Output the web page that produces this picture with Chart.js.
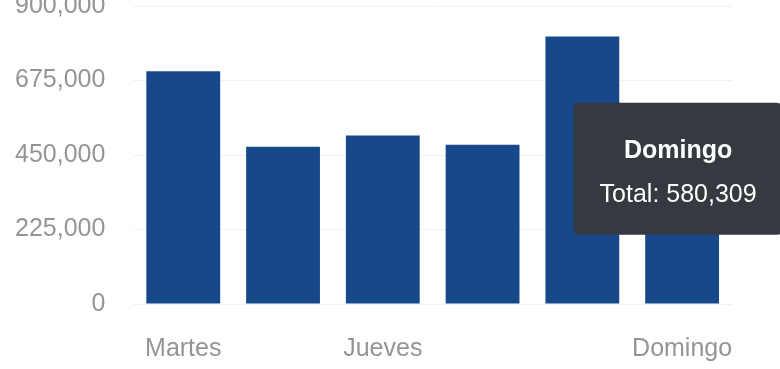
<!DOCTYPE html>
<html>
<head>
<meta charset="utf-8">
<script src="https://cdn.jsdelivr.net/npm/chart.js@4.4.1/dist/chart.umd.min.js"></script>
<style>
    html, body { margin: 0; padding: 0; background: #fff; overflow: hidden; width: 780px; height: 369px; }
    #wrap { position: absolute; left: -13px; top: -37px; width: 833px; height: 423px; }
</style>
</head>
<body>
<div id="wrap"><canvas id="barChart"></canvas></div>
<script>
// データ
const categories = ['Martes', 'Miércoles', 'Jueves', 'Viernes', 'Sábado', 'Domingo'];
const xTickLabels = ['Martes', '', 'Jueves', '', '', 'Domingo'];
const totals = [703000, 475000, 509000, 481000, 808000, 580309];
const yTicks = [0, 225000, 450000, 675000, 900000];

const fmt = v => Number(v).toLocaleString('en-US');
const family = '"Liberation Sans", Arial, sans-serif';

// tooltip は棒の少し下に固定
Chart.Tooltip.positioners.fixedBox = function (items) {
    if (!items.length) return false;
    const el = items[0].element;
    return { x: el.x - 4, y: el.y + 57, xAlign: 'center', yAlign: 'center' };
};

const ctx = document.getElementById('barChart').getContext('2d');
const chart = new Chart(ctx, {
    type: 'bar',
    data: {
        labels: categories,
        datasets: [{
            label: 'Total',
            data: totals,
            backgroundColor: '#17498a',
            barPercentage: 0.74,
            categoryPercentage: 1
        }]
    },
    options: {
        responsive: true,
        maintainAspectRatio: false,
        animation: false,
        events: [],
        layout: { autoPadding: false, padding: { left: 0, right: 88, top: 0, bottom: 0 } },
        plugins: {
            legend: { display: false },
            tooltip: {
                position: 'fixedBox',
                backgroundColor: 'rgb(52, 58, 64)',
                titleColor: '#fff',
                bodyColor: '#fff',
                titleFont: { family: family, size: 25, weight: 'bold' },
                bodyFont: { family: family, size: 25 },
                titleAlign: 'center',
                bodyAlign: 'center',
                titleMarginBottom: 14,
                padding: { top: 33, bottom: 25, left: 26, right: 26 },
                cornerRadius: 6,
                caretSize: 0,
                displayColors: false,
                callbacks: {
                    label: item => item.dataset.label + ': ' + fmt(item.raw)
                }
            }
        },
        scales: {
            x: {
                grid: { display: false },
                border: { display: false },
                ticks: {
                    autoSkip: false,
                    maxRotation: 0,
                    padding: 22,
                    color: '#959595',
                    font: { family: family, size: 25 },
                    callback: (v, i) => xTickLabels[i]
                }
            },
            y: {
                min: yTicks[0],
                max: yTicks[yTicks.length - 1],
                afterBuildTicks: axis => { axis.ticks = yTicks.map(v => ({ value: v })); },
                grid: { color: '#f1f1f1', drawTicks: false, lineWidth: 1 },
                border: { display: false },
                ticks: {
                    padding: 28,
                    color: '#959595',
                    font: { family: family, size: 25 },
                    callback: v => fmt(v)
                }
            }
        }
    }
});

// Domingo の tooltip を表示
chart.tooltip.setActiveElements([{ datasetIndex: 0, index: 5 }], { x: 0, y: 0 });
chart.update();
</script>
</body>
</html>
